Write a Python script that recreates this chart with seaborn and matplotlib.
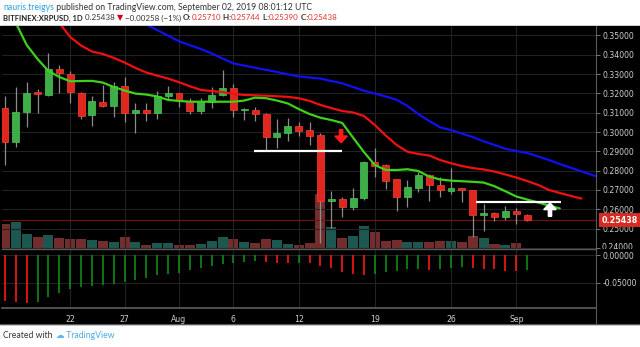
import numpy as np
import pandas as pd
import matplotlib
matplotlib.use("Agg")
import matplotlib.pyplot as plt
import seaborn as sns
from matplotlib.patches import Rectangle, FancyArrow
from matplotlib.lines import Line2D
from matplotlib.transforms import Bbox, TransformedBbox, blended_transform_factory

# ---------------- data: XRP/USD daily, Bitfinex ----------------
start_date = "2019-07-16"
open_ = [0.3125, 0.2948, 0.3104, 0.3200, 0.3192, 0.3325, 0.3299, 0.3203, 0.3089, 0.3158,
         0.3137, 0.3236, 0.3096, 0.3114, 0.3100, 0.3187, 0.3201, 0.3162, 0.3109, 0.3158,
         0.3192, 0.3226, 0.3112, 0.3116, 0.3094, 0.2975, 0.2997, 0.3033, 0.3010, 0.2984,
         0.2642, 0.2651, 0.2613, 0.2660, 0.2845, 0.2829, 0.2755, 0.2665, 0.2708, 0.2777,
         0.2725, 0.2696, 0.2708, 0.2699, 0.2570, 0.2579, 0.2561, 0.2591, 0.25710]
high = [0.3188, 0.3234, 0.3260, 0.3221, 0.3408, 0.3347, 0.3318, 0.3206, 0.3184, 0.3243,
        0.3257, 0.3285, 0.3149, 0.3149, 0.3215, 0.3236, 0.3204, 0.3175, 0.3175, 0.3234,
        0.3322, 0.3249, 0.3125, 0.3128, 0.3100, 0.3066, 0.3071, 0.3053, 0.3053, 0.2993,
        0.2696, 0.2662, 0.2708, 0.2850, 0.2916, 0.2834, 0.2758, 0.2751, 0.2794, 0.2782,
        0.2768, 0.2812, 0.2710, 0.2702, 0.2627, 0.2587, 0.2617, 0.2605, 0.25744]
low = [0.2829, 0.2920, 0.3024, 0.3100, 0.3184, 0.3200, 0.3149, 0.3065, 0.3030, 0.3131,
       0.3080, 0.3052, 0.2996, 0.3055, 0.3066, 0.3166, 0.3131, 0.3091, 0.3091, 0.3124,
       0.3184, 0.3080, 0.3060, 0.3056, 0.2908, 0.2918, 0.2955, 0.2979, 0.2932, 0.2425,
       0.2501, 0.2558, 0.2596, 0.2648, 0.2765, 0.2703, 0.2591, 0.2610, 0.2691, 0.2644,
       0.2665, 0.2679, 0.2639, 0.2458, 0.2489, 0.2539, 0.2544, 0.2522, 0.25390]
close = [0.2948, 0.3104, 0.3203, 0.3196, 0.3325, 0.3304, 0.3206, 0.3082, 0.3160, 0.3137,
         0.3236, 0.3096, 0.3114, 0.3100, 0.3187, 0.3201, 0.3162, 0.3109, 0.3158, 0.3192,
         0.3226, 0.3114, 0.3116, 0.3094, 0.2975, 0.2997, 0.3031, 0.3007, 0.2979, 0.2642,
         0.2653, 0.2613, 0.2660, 0.2845, 0.2825, 0.2748, 0.2665, 0.2717, 0.2777, 0.2725,
         0.2699, 0.2708, 0.2699, 0.2570, 0.2577, 0.2561, 0.2591, 0.2574, 0.25438]
volume = [25, 27, 15, 11.7, 13.7, 10.7, 10, 10, 8.7, 7.7,
          6.4, 11.7, 7, 4, 5.4, 5.7, 4, 4, 4.7, 7.7,
          11.4, 10, 7, 5.7, 9.4, 8.7, 4.7, 3.2, 5.7, 54.4,
          22, 10.4, 13, 22.7, 16.7, 7.7, 8.7, 6.7, 6.4, 6.4,
          7.4, 8, 6.4, 12.4, 10.4, 5, 4, 5.4, 1]

# displaced moving averages (run ahead of the last candle)
ma_fast = [0.3658, 0.3565, 0.3451, 0.3378, 0.3316, 0.3285, 0.3263, 0.3264, 0.3265, 0.3256,
           0.3233, 0.3215, 0.3199, 0.3194, 0.3184, 0.3166, 0.3161, 0.3157, 0.3157, 0.3157,
           0.3157, 0.3157, 0.3163, 0.3178, 0.3175, 0.3163, 0.3148, 0.3119, 0.3093, 0.3074,
           0.3062, 0.3047, 0.2971, 0.2896, 0.2829, 0.2803, 0.2803, 0.2807, 0.2798, 0.2769,
           0.2754, 0.2748, 0.2745, 0.2742, 0.2738, 0.2719, 0.2693, 0.2666, 0.2650, 0.2635,
           0.2619, 0.2604]
ma_mid = [0.3850, 0.3790, 0.3730, 0.3680, 0.3625, 0.3565, 0.3492, 0.3448, 0.3417, 0.3404,
          0.3384, 0.3360, 0.3332, 0.3308, 0.3292, 0.3277, 0.3258, 0.3237, 0.3218, 0.3212,
          0.3207, 0.3197, 0.3192, 0.3190, 0.3188, 0.3185, 0.3182, 0.3175, 0.3161, 0.3140,
          0.3124, 0.3109, 0.3101, 0.3083, 0.3036, 0.2982, 0.2933, 0.2898, 0.2886, 0.2878,
          0.2855, 0.2838, 0.2824, 0.2813, 0.2806, 0.2795, 0.2780, 0.2764, 0.2746, 0.2726,
          0.2700, 0.2684, 0.2669, 0.2655]
ma_slow = [0.3960, 0.3920, 0.3880, 0.3840, 0.3800, 0.3765, 0.3730, 0.3700, 0.3670, 0.3645,
           0.3620, 0.3600, 0.3585, 0.3557, 0.3528, 0.3499, 0.3470, 0.3450, 0.3430, 0.3407,
           0.3381, 0.3355, 0.3344, 0.3333, 0.3322, 0.3311, 0.3299, 0.3288, 0.3282, 0.3277,
           0.3264, 0.3252, 0.3233, 0.3214, 0.3199, 0.3184, 0.3167, 0.3135, 0.3093, 0.3057,
           0.3024, 0.3010, 0.2992, 0.2974, 0.2952, 0.2933, 0.2913, 0.2902, 0.2891, 0.2874,
           0.2855, 0.2834, 0.2815, 0.2796, 0.2777, 0.2759]

# oscillator histogram (lower pane)
osc = [-0.083, -0.085, -0.086, -0.084, -0.0765, -0.068, -0.062, -0.058, -0.056, -0.055,
       -0.052, -0.049, -0.045, -0.042, -0.037, -0.034, -0.032, -0.0265, -0.023, -0.020,
       -0.017, -0.015, -0.0127, -0.011, -0.0127, -0.0148, -0.0152, -0.014, -0.0145, -0.019,
       -0.0235, -0.030, -0.035, -0.037, -0.034, -0.030, -0.028, -0.026, -0.0247, -0.0262,
       -0.0255, -0.023, -0.021, -0.0235, -0.025, -0.026, -0.028, -0.0285, -0.027]

price_ticks = [0.24, 0.25, 0.26, 0.27, 0.28, 0.29, 0.30, 0.31, 0.32, 0.33, 0.34, 0.35]
osc_ticks = [0.0, -0.05]
date_ticks = ["2019-07-22", "2019-07-27", "2019-08-01", "2019-08-06",
              "2019-08-12", "2019-08-19", "2019-08-26", "2019-09-01"]
date_labels = ["22", "27", "Aug", "6", "12", "19", "26", "Sep"]

breakdown_level = 0.2903
support_level = 0.2636

# ---------------- style ----------------
sns.set_theme(style="dark")
plt.rcParams['font.family'] = ['DejaVu Sans']

W, H = 640, 347
fig = plt.figure(figsize=(W / 100, H / 100), dpi=100)
fig.patch.set_facecolor("white")


def px_box(x0, y0, x1, y1):
    return [x0 / W, 1 - y1 / H, (x1 - x0) / W, (y1 - y0) / H]


BG = "#000000"
GRID = "#222222"
SEP = "#5a5a5a"
TXT = "#cfcfcf"
UP, DN = "#3fae49", "#e0271e"
UP_EDGE, DN_EDGE = "#4cc957", "#ff3d33"
WICK = "#8c8c8c"

fig.patches.append(Rectangle((0, 1 - 324 / H), 1, (324 - 26) / H,
                             transform=fig.transFigure, color=BG, zorder=-5))

days = np.arange(len(close))
dstart = pd.Timestamp(start_date)
tick_pos = [(pd.Timestamp(d) - dstart).days for d in date_ticks]
x_lo, x_hi = -0.27, 54.33

# ---------------- main price pane ----------------
axv = fig.add_axes(px_box(2, 26, 596, 248.5))
ax = axv.twinx()
axv.set_zorder(1)
ax.set_zorder(2)
ax.patch.set_visible(False)
axv.set_facecolor(BG)

vol_cols = ["#1e5d55" if c >= o else "#7b3030" for o, c in zip(open_, close)]
axv.bar(days, volume, width=0.92, color=vol_cols, edgecolor="none", alpha=0.95)
axv.set_ylim(0, 222.5)
axv.set_yticks([])
axv.set_xlim(x_lo, x_hi)
axv.set_xticks([])
for s in axv.spines.values():
    s.set_visible(False)

ax.set_xlim(x_lo, x_hi)
ax.set_ylim(0.23964, 0.35492)
for p in price_ticks:
    ax.axhline(p, color=GRID, lw=0.8, zorder=0)
for t in tick_pos:
    ax.axvline(t, color=GRID, lw=0.8, zorder=0)

ax.axhline(close[-1], color="#6e1212", lw=0.9, zorder=1)

# candles
for i in days:
    o, h, l, c = open_[i], high[i], low[i], close[i]
    up = c >= o
    ax.vlines(i, l, h, color=WICK, lw=0.9, zorder=3)
    body = max(abs(c - o), 0.0009)
    ax.bar(i, body, bottom=min(o, c), width=0.64,
           color=UP if up else DN, edgecolor=UP_EDGE if up else DN_EDGE,
           lw=0.5, zorder=4)

sns.lineplot(x=np.arange(len(ma_slow)), y=ma_slow, ax=ax, color="#1010f0", lw=1.6, zorder=5)
sns.lineplot(x=np.arange(len(ma_mid)), y=ma_mid, ax=ax, color="#f01010", lw=1.6, zorder=5)
sns.lineplot(x=np.arange(len(ma_fast)), y=ma_fast, ax=ax, color="#3ed11c", lw=1.6, zorder=5)

# drawn levels and arrows
ax.hlines(breakdown_level, 22.9, 31.0, color="white", lw=1.6, zorder=6)
ax.hlines(support_level, 43.3, 51.1, color="white", lw=1.6, zorder=6)
ax.add_patch(FancyArrow(30.9, 0.3012, 0, -0.0068, width=0.30, head_width=1.15,
                        head_length=0.0035, length_includes_head=True,
                        color="#ff1a1a", zorder=7))
ax.add_patch(FancyArrow(50.1, 0.2563, 0, 0.0070, width=0.30, head_width=1.15,
                        head_length=0.0035, length_includes_head=True,
                        color="white", zorder=7))

# right price scale; the lowest label is cut by the lower pane
ax.set_yticks(price_ticks)
ax.set_yticklabels([f"{p:.5f}" if p > 0.245 else "" for p in price_ticks])
ax.tick_params(axis="y", right=True, left=False, labelright=True, labelleft=False,
               length=3, width=0.6, color="#888888", labelcolor=TXT, labelsize=5.6, pad=2)
ax.set_xticks([])
ax.set_ylabel("")
for s in ax.spines.values():
    s.set_visible(False)
ax.spines["bottom"].set_visible(True)
ax.spines["bottom"].set_color(SEP)
ax.spines["bottom"].set_linewidth(1.0)
ax.grid(False)

tr = blended_transform_factory(fig.transFigure, ax.transData)
low_lab = ax.text(601.5 / W, price_ticks[0], f"{price_ticks[0]:.5f}", transform=tr,
                  ha="left", va="center", fontsize=5.6, color=TXT, clip_on=True)
low_lab.set_clip_box(TransformedBbox(Bbox([[0, 1 - 248.5 / H], [1, 1]]), fig.transFigure))

# last price tag
ax.text(602 / W, close[-1], f"{close[-1]:.5f}", transform=tr, ha="left", va="center",
        fontsize=5.8, fontweight="bold", color="white", zorder=10, clip_on=False,
        bbox=dict(boxstyle="square,pad=0.35", fc="#d62a22", ec="none"))

# ---------------- oscillator pane ----------------
axo = fig.add_axes(px_box(2, 249.5, 596, 308))
axo.set_facecolor(BG)
axo.set_xlim(x_lo, x_hi)
axo.set_ylim(-0.09567, 0.00993)
for p in osc_ticks:
    axo.axhline(p, color=GRID, lw=0.8, zorder=0)
for t in tick_pos:
    axo.axvline(t, color=GRID, lw=0.8, zorder=0)
osc_arr = np.array(osc)
prev = np.concatenate([[osc_arr[0] + 1], osc_arr[:-1]])
osc_cols = np.where(osc_arr > prev, "#0c8c14", "#ff1616")
axo.vlines(days, 0, osc_arr, colors=osc_cols, lw=1.2, zorder=3)
axo.yaxis.tick_right()
axo.set_yticks(osc_ticks)
axo.set_yticklabels([f"{p:.5f}" for p in osc_ticks])
axo.set_xticks(tick_pos)
axo.set_xticklabels(date_labels)
axo.tick_params(axis="y", right=True, left=False, length=3, width=0.6, color="#888888",
                labelcolor=TXT, labelsize=5.6, pad=2)
axo.tick_params(axis="x", length=0, labelcolor=TXT, labelsize=5.6, pad=5)
for s in axo.spines.values():
    s.set_visible(False)
axo.spines["bottom"].set_visible(True)
axo.spines["bottom"].set_color(SEP)
axo.grid(False)

# frame lines of the chart widget
fig.add_artist(Line2D([596 / W, 596 / W], [1 - 26 / H, 1 - 324 / H], color=SEP, lw=0.8,
                      transform=fig.transFigure))
fig.add_artist(Line2D([0, 1], [1 - 324 / H, 1 - 324 / H], color=SEP, lw=0.8,
                      transform=fig.transFigure))

# ---------------- header and footer text ----------------
renderer = fig.canvas.get_renderer()
HFAM = ["Lato", "DejaVu Sans"]


def text_runs(x, y, parts, size):
    for txt, col, wt in parts:
        t = fig.text(x / W, 1 - y / H, txt, color=col, fontsize=size, fontweight=wt,
                     va="center", ha="left", family=HFAM)
        x = t.get_window_extent(renderer).x1
    return x


DARK = "#333333"
RED = "#e0332b"
BLUE = "#2a9fe0"
line1 = [("nauris.treigys", BLUE, "normal"),
         (" published on TradingView.com, September 02, 2019 08:01:12 UTC", DARK, "normal")]
probe = fig.text(0, 0, "".join(p[0] for p in line1), fontsize=10, family=HFAM)
hsize = 10 * 309 / probe.get_window_extent(renderer).width
probe.remove()
text_runs(3, 7, line1, hsize)

# symbol name, set a little tighter so it ends where the quote starts
sym = fig.text(3 / W, 1 - 18 / H, "BITFINEX:XRPUSD, 1D", color="#222222", fontsize=hsize,
               fontweight="bold", va="center", ha="left", family=HFAM)
sw = sym.get_window_extent(renderer).width
if sw > 80:
    sym.set_fontsize(hsize * 80 / sw)
qsize = hsize * 0.92
text_runs(85, 18, [("0.25438 ", DARK, "normal"),
                   ("▼", "#d0021b", "normal"),
                   (" −0.00258 (−1%) ", DARK, "normal"),
                   ("O:", DARK, "bold"), ("0.25710", RED, "normal"),
                   (" H:", DARK, "bold"), ("0.25744", RED, "normal"),
                   (" L:", DARK, "bold"), ("0.25390", RED, "normal"),
                   (" C:", DARK, "bold"), ("0.25438", RED, "normal")],
          qsize)

xe = text_runs(3, 336, [("Created with ", DARK, "normal")], hsize)
text_runs(xe + 1, 336, [("☁", "#5bb7ea", "normal"), (" TradingView", "#4aa8e0", "normal")], hsize)

fig.savefig("out.png", dpi=100, facecolor=fig.get_facecolor())
